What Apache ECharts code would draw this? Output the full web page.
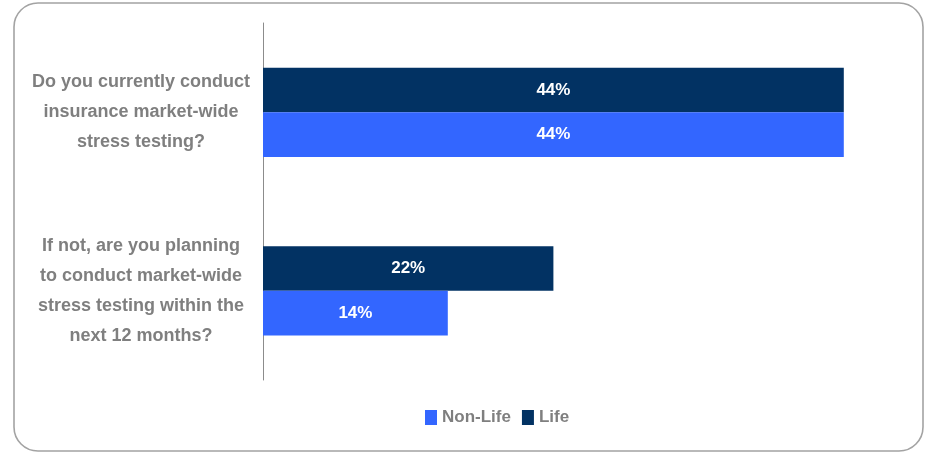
<!DOCTYPE html>
<html>
<head>
<meta charset="utf-8">
<script src="https://cdn.jsdelivr.net/npm/echarts@6/dist/echarts.min.js"></script>
<style>
  html, body { margin: 0; padding: 0; background: #ffffff; }
  #chart { width: 926px; height: 452px; }
</style>
</head>
<body>
<div id="chart"></div>
<script>
// Survey questions (top to bottom) and the share of respondents answering yes
const questions = [
  'Do you currently conduct\ninsurance market-wide\nstress testing?',
  'If not, are you planning\nto conduct market-wide\nstress testing within the\nnext 12 months?'
];
const lifeValues = [44, 22];
const nonLifeValues = [44, 14];
const seriesNames = ['Life', 'Non-Life'];

const FONT = '"Liberation Sans", Arial, sans-serif';
const GREY_TEXT = '#7f7f7f';

const chart = echarts.init(document.getElementById('chart'), null, { renderer: 'canvas' });

const valueLabel = {
  show: true,
  position: 'inside',
  formatter: '{c}%',
  color: '#ffffff',
  fontFamily: FONT,
  fontWeight: 'bold',
  fontSize: 17
};

chart.setOption({
  animation: false,
  backgroundColor: '#ffffff',
  graphic: [{
    type: 'rect',
    shape: { x: 14, y: 3, width: 909, height: 448, r: 24 },
    style: { fill: 'none', stroke: '#a3a3a3', lineWidth: 1.6 },
    silent: true,
    z: -1
  }],
  grid: { left: 263, right: 3, top: 23, height: 357 },
  legend: {
    data: ['Non-Life', 'Life'],
    left: 425,
    top: 409,
    padding: 0,
    itemWidth: 12,
    itemHeight: 15,
    itemGap: 11,
    icon: 'rect',
    textStyle: { color: GREY_TEXT, fontFamily: FONT, fontWeight: 'bold', fontSize: 17 }
  },
  xAxis: {
    type: 'value',
    min: 0,
    max: 50,
    show: false
  },
  yAxis: {
    type: 'category',
    data: questions,
    inverse: true,
    axisLine: { show: true, lineStyle: { color: '#8c8c8c', width: 1 } },
    axisTick: { show: false },
    axisLabel: {
      margin: 122,
      align: 'center',
      color: GREY_TEXT,
      fontFamily: FONT,
      fontWeight: 'bold',
      fontSize: 18,
      lineHeight: 30
    }
  },
  series: [
    {
      name: seriesNames[0],
      type: 'bar',
      data: lifeValues,
      itemStyle: { color: '#023263' },
      barGap: 0,
      barCategoryGap: '50%',
      label: valueLabel
    },
    {
      name: seriesNames[1],
      type: 'bar',
      data: nonLifeValues,
      itemStyle: { color: '#3366ff' },
      barGap: 0,
      barCategoryGap: '50%',
      label: valueLabel
    }
  ]
});
</script>
</body>
</html>
